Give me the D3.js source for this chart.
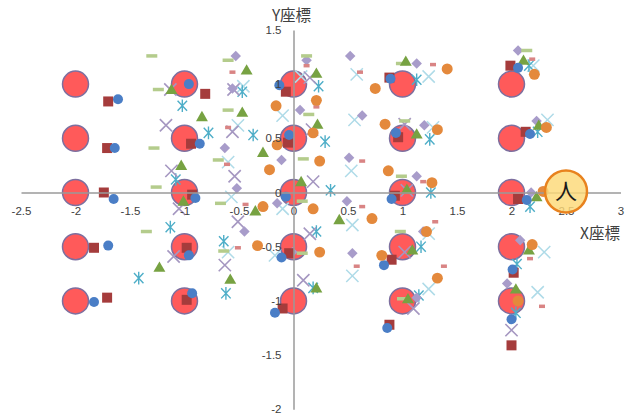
<!DOCTYPE html>
<html>
<head>
<meta charset="utf-8">
<script src="https://cdn.jsdelivr.net/npm/d3@7"></script>
<style>
  html, body { margin: 0; padding: 0; background: #ffffff; }
  svg { display: block; }
  .tick text { font-family: "Liberation Sans", Arial, sans-serif; font-size: 11.5px; fill: #404040; }
  .title { font-family: "Noto Sans CJK JP", sans-serif; font-size: 15.5px; fill: #404040; }
</style>
</head>
<body>
<svg id="chart" width="631" height="418"></svg>
<script>
// Seat grid (large red circles)
const seatX = [-2, -1, 0, 1, 2];
const seatY = [1, 0.5, 0, -0.5, -1];

// Observer position
const personPos = [2.5, 0];
const personLabel = "人";

// Axis ticks and titles
const xTicks = [-2.5, -2, -1.5, -1, -0.5, 0, 0.5, 1, 1.5, 2, 2.5, 3];
const xTickLabels = ["-2.5", "-2", "-1.5", "-1", "-0.5", "0", "0.5", "1", "1.5", "2", "2.5", "3"];
const yTicks = [-2, -1.5, -1, -0.5, 0, 0.5, 1, 1.5];
const yTickLabels = ["-2", "-1.5", "-1", "-0.5", "0", "0.5", "1", "1.5"];
const xTitle = "X座標";
const yTitle = "Y座標";

// Measured points, one array per marker series
const paleCross = [[-0.46,0.98],[-0.51,0.62],[-0.60,0.28],[-0.57,-0.04],[-0.60,-0.55],[0.07,1.07],[-0.10,0.71],[-0.10,-0.15],[-0.17,-0.58],[0.58,1.09],[0.56,0.67],[0.53,0.20],[0.54,-0.30],[0.54,-0.77],[1.24,1.07],[1.28,0.60],[1.24,-0.38],[1.24,-0.89],[2.20,1.17],[2.33,0.67],[2.30,-0.55],[2.24,-0.92]];
const stars = [[-1.02,0.80],[-0.78,0.55],[-1.08,0.12],[-1.13,-0.32],[-1.42,-0.79],[-0.47,0.93],[-0.37,0.53],[-0.64,-0.45],[-0.62,-0.93],[0.23,0.98],[0.29,0.47],[0.34,0.02],[0.21,-0.36],[0.18,-0.88],[1.13,1.04],[1.25,0.49],[1.26,0.00],[1.17,-0.50],[1.15,-0.95],[2.16,1.17],[2.24,0.56],[2.17,-0.13],[2.05,-0.66],[2.04,-1.11]];
const purpleCross = [[-1.13,0.95],[-1.17,0.62],[-1.12,0.20],[-1.05,-0.15],[-1.10,-0.59],[-0.55,0.95],[-0.56,0.56],[-0.54,0.15],[-0.51,-0.27],[-0.63,-0.67],[0.15,1.06],[0.17,0.58],[0.18,0.10],[0.15,-0.38],[0.09,-0.81],[1.02,0.63],[1.04,0.02],[1.02,-0.55],[1.10,-1.07],[2.00,-1.27]];
const diamonds = [[-0.53,1.26],[-0.56,0.96],[-0.63,0.41],[-0.52,0.04],[-0.45,-0.36],[0.12,1.22],[0.06,0.76],[-0.11,0.30],[-0.15,-0.10],[-0.01,-0.55],[0.52,1.26],[0.63,0.71],[0.51,0.32],[0.49,-0.08],[0.54,-0.56],[1.13,1.19],[1.20,0.62],[1.13,0.15],[1.19,-0.36],[1.13,-0.97],[2.06,1.31],[2.23,0.66],[2.18,0.00],[2.08,-0.44],[1.96,-0.84]];
const greenDash = [[-1.30,1.26],[-1.24,0.95],[-1.28,0.41],[-1.26,0.05],[-1.35,-0.36],[-0.60,1.22],[-0.60,0.76],[-0.69,0.30],[-0.67,-0.10],[-0.64,-0.54],[0.12,1.26],[0.14,0.72],[0.09,0.31],[0.08,-0.08],[0.08,-0.56],[0.99,1.19],[1.02,0.66],[0.99,0.15],[0.98,-0.36],[1.00,-0.98],[2.14,1.31]];
const pinkDash = [[-0.56,1.11],[-0.60,0.60],[-0.61,0.26],[-0.44,-0.11],[-0.51,-0.51],[0.12,1.17],[0.21,0.79],[0.61,1.11],[0.63,0.29],[0.63,-0.13],[0.58,-0.68],[1.28,1.18],[1.19,0.10],[1.30,-0.27],[1.38,-0.68],[2.19,1.23],[2.17,-0.61],[2.28,-1.05]];
const squares = [[-1.70,0.84],[-1.71,0.41],[-1.74,0.00],[-1.83,-0.51],[-1.71,-0.97],[-0.81,0.91],[-0.94,0.45],[-0.93,-0.02],[-0.98,-0.51],[-0.98,-0.99],[-0.07,0.93],[-0.05,0.46],[-0.04,-0.56],[-0.10,-1.07],[0.88,1.06],[0.96,0.51],[0.93,-0.03],[0.90,-0.62],[0.88,-1.22],[1.99,1.17],[2.13,0.56],[2.06,-0.06],[2.02,-0.74],[2.00,-1.41]];
const triangles = [[-1.12,0.94],[-0.84,0.69],[-1.03,0.24],[-1.01,-0.09],[-1.23,-0.70],[-0.43,1.12],[-0.47,0.73],[-0.28,0.36],[-0.35,-0.18],[-0.58,-0.81],[0.21,1.09],[0.22,0.62],[0.07,0.09],[0.42,-0.26],[0.21,-0.89],[1.03,1.20],[1.13,0.53],[1.04,0.02],[1.09,-0.54],[1.05,-0.99],[2.11,1.21],[2.25,0.61],[2.23,-0.05],[2.16,-0.54],[2.04,-0.90]];
const blueDots = [[-1.61,0.86],[-1.64,0.41],[-1.65,-0.06],[-1.70,-0.49],[-1.83,-1.01],[-0.96,1.00],[-0.86,0.45],[-0.90,-0.05],[-0.96,-0.58],[-0.93,-0.93],[-0.13,0.99],[-0.04,0.53],[-0.07,-0.04],[-0.11,-0.60],[-0.17,-1.11],[0.89,1.05],[0.94,0.55],[0.90,-0.06],[0.83,-0.67],[0.86,-1.25],[2.06,1.15],[2.17,0.54],[2.14,-0.07],[2.01,-0.71],[2.00,-1.17]];
const orangeDots = [[-0.16,0.80],[-0.15,0.44],[-0.22,0.21],[-0.28,-0.13],[-0.33,-0.49],[0.21,0.85],[0.18,0.55],[0.24,0.29],[0.18,-0.15],[0.24,-0.55],[0.75,0.96],[0.84,0.63],[0.87,0.20],[0.72,-0.24],[0.81,-0.58],[1.41,1.14],[1.32,0.58],[1.27,0.09],[1.22,-0.36],[1.32,-0.79],[2.21,1.09],[2.32,0.60],[2.29,0.01],[2.19,-0.48],[2.06,-1.00]];

const svg = d3.select("#chart");
const x = d3.scaleLinear().domain([-2.5, 3]).range([21, 620.5]);
const y = d3.scaleLinear().domain([-2, 1.5]).range([409.3, 29.9]);

// Custom marker shapes
const diamondShape = { draw(ctx, size) { const r = Math.sqrt(size / 2); ctx.moveTo(0, -r); ctx.lineTo(r, 0); ctx.lineTo(0, r); ctx.lineTo(-r, 0); ctx.closePath(); } };
const crossShape = { draw(ctx, size) { const r = Math.sqrt(size) / 2; ctx.moveTo(-r, -r); ctx.lineTo(r, r); ctx.moveTo(-r, r); ctx.lineTo(r, -r); } };
const starShape = { draw(ctx, size) { const r = Math.sqrt(size) / 2; const w = r * 0.75; ctx.moveTo(0, -r); ctx.lineTo(0, r); ctx.moveTo(-w, -r * 0.8); ctx.lineTo(w, r * 0.8); ctx.moveTo(-w, r * 0.8); ctx.lineTo(w, -r * 0.8); } };
const dashShape = (w, h) => ({ draw(ctx) { ctx.rect(-w / 2, -h / 2, w, h); } });

const plot = svg.append("g");

// Seats
const seats = seatY.flatMap(sy => seatX.map(sx => [sx, sy]));
plot.append("g").selectAll("circle").data(seats).join("circle")
  .attr("cx", d => x(d[0])).attr("cy", d => y(d[1])).attr("r", 13)
  .attr("fill", "#ff5a5a").attr("stroke", "#7d6f9f").attr("stroke-width", 1.5);

function drawSeries(data, shape, size, style) {
  const sym = d3.symbol().type(shape).size(size);
  plot.append("g").selectAll("path").data(data).join("path")
    .attr("transform", d => `translate(${x(d[0])},${y(d[1])})`)
    .attr("d", sym)
    .attr("fill", style.fill || "none")
    .attr("stroke", style.stroke || "none")
    .attr("stroke-width", style.width || 0);
}

drawSeries(paleCross, crossShape, 150, { stroke: "#afdbe8", width: 1.5 });
drawSeries(stars, starShape, 160, { stroke: "#4eaec8", width: 1.4 });
drawSeries(purpleCross, crossShape, 150, { stroke: "#a597c1", width: 1.6 });
drawSeries(diamonds, diamondShape, 55, { fill: "#a89cca" });
drawSeries(greenDash, dashShape(11, 3.5), 1, { fill: "#b4cc8c" });
drawSeries(pinkDash, dashShape(6, 3.5), 1, { fill: "#d98484" });
drawSeries(squares, d3.symbolSquare, 100, { fill: "#a53c3c" });
drawSeries(triangles, d3.symbolTriangle, 62, { fill: "#77a242" });
drawSeries(blueDots, d3.symbolCircle, Math.PI * 25, { fill: "#4a7ec6" });
drawSeries(orangeDots, d3.symbolCircle, Math.PI * 30, { fill: "#e4893c" });

// Axes crossing at the origin
const xAxis = d3.axisBottom(x).tickValues(xTicks).tickFormat((d, i) => xTickLabels[i]).tickSize(0).tickSizeOuter(0).tickPadding(14);
const yAxis = d3.axisLeft(y).tickValues(yTicks).tickFormat((d, i) => yTickLabels[i]).tickSize(0).tickSizeOuter(0).tickPadding(12);

const gx = svg.append("g").attr("transform", `translate(0,${y(0)})`).call(xAxis);
const gy = svg.append("g").attr("transform", `translate(${x(0)},0)`).call(yAxis);
[gx, gy].forEach(g => {
  g.select(".domain").attr("stroke", "#9a9a9a").attr("stroke-width", 1.5);
  g.selectAll(".tick text").attr("fill", "#404040");
});

svg.append("text").attr("class", "title")
  .attr("x", x(0) - 2).attr("y", 21).attr("text-anchor", "middle").text(yTitle);
svg.append("text").attr("class", "title")
  .attr("x", 620).attr("y", 239).attr("text-anchor", "end").text(xTitle);

// Observer (drawn over the axis; the 2.5 label shows faintly through it)
const person = svg.append("g").attr("transform", `translate(${x(personPos[0])},${y(personPos[1]) - 1})`);
person.append("circle").attr("r", 21)
  .attr("fill", "#fdd978").attr("fill-opacity", 0.82)
  .attr("stroke", "#e8821e").attr("stroke-width", 2.5);
person.append("text").attr("text-anchor", "middle").attr("dy", "0.32em")
  .attr("font-family", "'Noto Sans CJK JP', sans-serif").attr("font-size", 22)
  .attr("fill", "#1a1a1a").text(personLabel);
</script>
</body>
</html>
